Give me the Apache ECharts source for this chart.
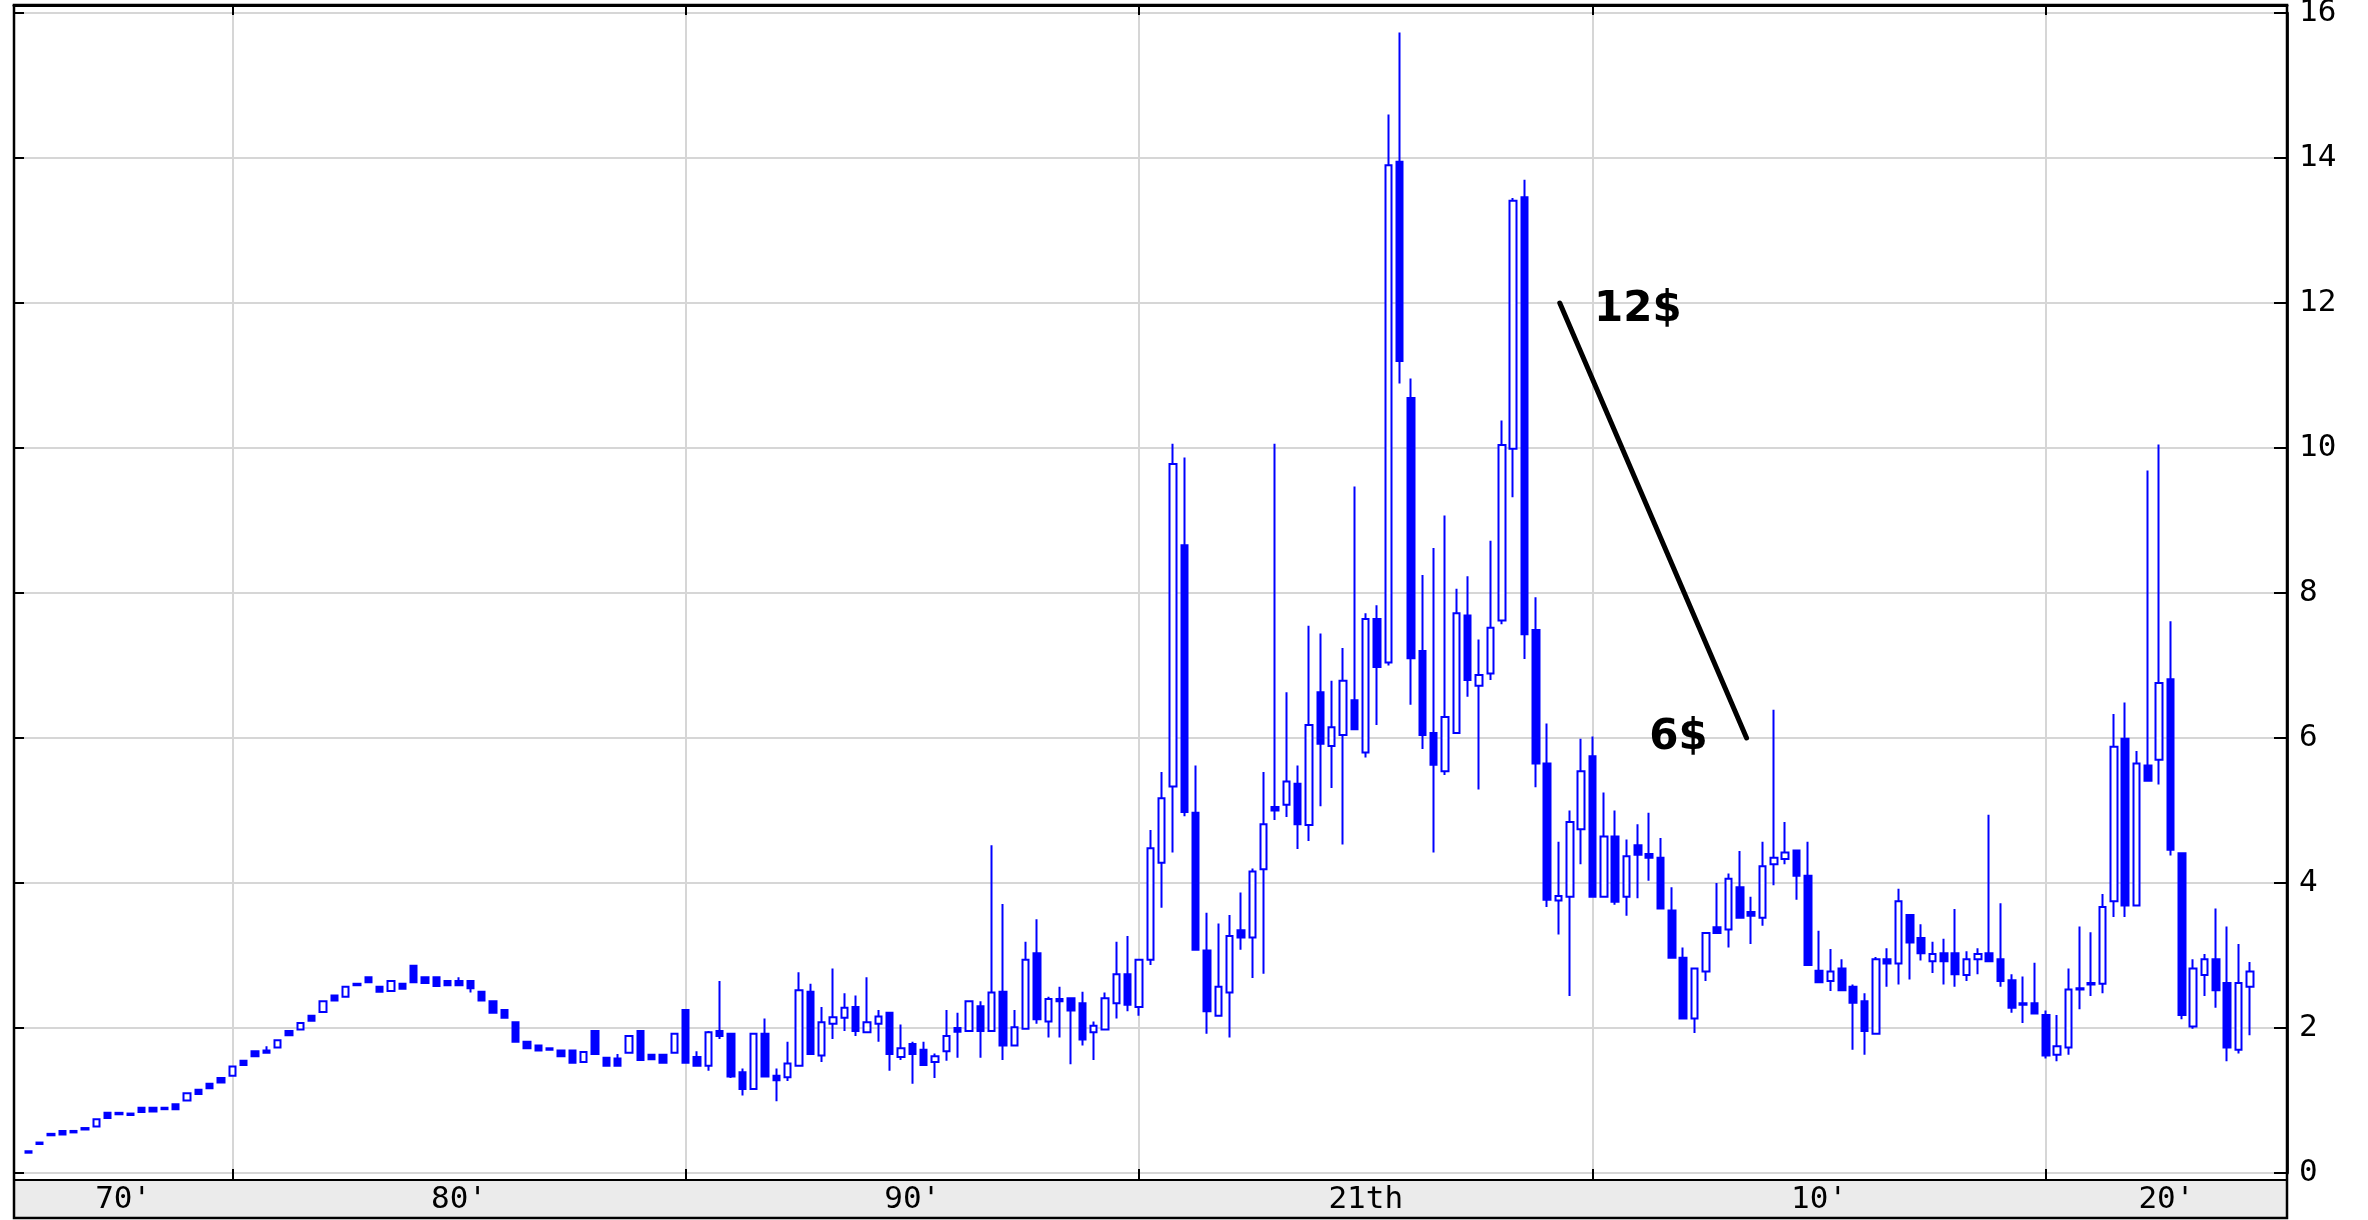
<!DOCTYPE html>
<html>
<head>
<meta charset="utf-8">
<script src="https://cdn.jsdelivr.net/npm/echarts@6/dist/echarts.min.js"></script>
<style>
  html, body { margin: 0; padding: 0; background: #fff; }
  #chart { width: 2368px; height: 1220px; }
</style>
</head>
<body>
<div id="chart"></div>
<script>
// ---- DATA ----
// quarterly candles, first one is 1975 Q3 (x expressed in decimal years)
const firstQuarter = 1975.5;
const quarterStep = 0.25;
// [open, close, low, high]
const ohlc = [
  [0.30,0.28,0.28,0.30],[0.42,0.40,0.40,0.42],[0.54,0.52,0.52,0.54],[0.58,0.53,0.53,0.58],
  [0.58,0.56,0.56,0.58],[0.62,0.60,0.60,0.62],[0.64,0.74,0.64,0.74],[0.83,0.76,0.76,0.83],
  [0.83,0.81,0.81,0.83],[0.82,0.80,0.80,0.82],[0.90,0.84,0.84,0.90],[0.90,0.85,0.85,0.90],
  [0.90,0.88,0.88,0.90],[0.95,0.88,0.88,0.95],[1.00,1.10,1.00,1.10],[1.15,1.09,1.09,1.15],
  [1.23,1.17,1.17,1.23],[1.31,1.25,1.25,1.31],[1.34,1.47,1.34,1.47],[1.55,1.49,1.49,1.55],
  [1.68,1.61,1.61,1.68],[1.69,1.66,1.66,1.75],[1.73,1.83,1.73,1.83],[1.96,1.90,1.90,1.96],
  [1.98,2.07,1.98,2.07],[2.17,2.10,2.10,2.17],[2.22,2.37,2.22,2.37],[2.45,2.38,2.38,2.45],
  [2.43,2.57,2.43,2.57],[2.61,2.59,2.59,2.61],[2.70,2.63,2.63,2.70],[2.57,2.50,2.50,2.57],
  [2.51,2.65,2.51,2.65],[2.61,2.54,2.54,2.61],[2.86,2.63,2.63,2.86],[2.70,2.62,2.62,2.70],
  [2.70,2.58,2.58,2.70],[2.65,2.59,2.59,2.65],[2.65,2.59,2.59,2.70],[2.65,2.55,2.49,2.65],
  [2.50,2.38,2.38,2.50],[2.37,2.21,2.21,2.37],[2.25,2.14,2.14,2.25],[2.08,1.81,1.81,2.08],
  [1.81,1.72,1.72,1.81],[1.76,1.69,1.69,1.76],[1.72,1.70,1.70,1.72],[1.69,1.61,1.61,1.69],
  [1.69,1.52,1.52,1.69],[1.53,1.67,1.53,1.67],[1.96,1.64,1.64,1.96],[1.59,1.48,1.48,1.59],
  [1.58,1.48,1.48,1.64],[1.66,1.89,1.66,1.89],[1.96,1.56,1.56,1.96],[1.63,1.57,1.57,1.63],
  [1.63,1.52,1.52,1.63],[1.66,1.92,1.66,1.92],[2.25,1.52,1.52,2.25],[1.60,1.48,1.48,1.68],
  [1.48,1.94,1.41,1.96],[1.96,1.89,1.85,2.65],[1.92,1.33,1.31,1.92],[1.39,1.16,1.07,1.44],
  [1.16,1.92,1.16,1.92],[1.92,1.33,1.33,2.13],[1.34,1.28,0.99,1.44],[1.32,1.51,1.27,1.81],
  [1.48,2.52,1.48,2.77],[2.50,1.64,1.64,2.61],[1.62,2.08,1.53,2.29],[2.06,2.15,1.85,2.82],
  [2.14,2.28,1.96,2.48],[2.29,1.96,1.89,2.45],[1.94,2.08,1.94,2.70],[2.06,2.16,1.81,2.25],
  [2.21,1.64,1.41,2.21],[1.60,1.72,1.56,2.05],[1.78,1.64,1.23,1.81],[1.70,1.49,1.49,1.81],
  [1.53,1.61,1.31,1.65],[1.68,1.89,1.55,2.25],[2.00,1.95,1.59,2.21],[1.96,2.37,1.96,2.37],
  [2.30,1.96,1.59,2.37],[1.96,2.49,1.96,4.52],[2.50,1.76,1.56,3.71],[1.76,2.01,1.76,2.25],
  [1.99,2.94,1.99,3.19],[3.03,2.12,2.06,3.50],[2.09,2.40,1.87,2.43],[2.40,2.37,1.87,2.57],
  [2.41,2.24,1.50,2.41],[2.34,1.84,1.76,2.50],[1.94,2.03,1.56,2.09],[1.98,2.41,1.98,2.49],
  [2.34,2.74,2.13,3.19],[2.74,2.32,2.23,3.27],[2.29,2.94,2.17,2.94],[2.94,4.48,2.87,4.73],
  [4.28,5.17,3.66,5.53],[5.33,9.78,4.42,10.06],[8.66,4.98,4.92,9.87],[4.97,3.08,3.08,5.62],
  [3.07,2.23,1.92,3.59],[2.17,2.57,2.17,3.44],[2.49,3.27,1.87,3.56],[3.35,3.25,3.08,3.87],
  [3.25,4.16,2.69,4.20],[4.19,4.81,2.75,5.53],[5.05,5.00,4.87,10.06],[5.08,5.40,4.91,6.63],
  [5.37,4.81,4.47,5.62],[4.80,6.18,4.58,7.55],[6.63,5.92,5.06,7.44],[5.89,6.15,5.31,6.79],
  [6.04,6.79,4.53,7.24],[6.52,6.12,6.12,9.47],[5.80,7.64,5.73,7.72],[7.64,6.98,6.18,7.83],
  [7.04,13.90,7.00,14.60],[13.95,11.20,10.89,15.73],[10.69,7.10,6.46,10.96],[7.20,6.04,5.85,8.25],
  [6.07,5.63,4.42,8.62],[5.54,6.29,5.49,9.07],[6.07,7.72,6.07,8.06],[7.69,6.80,6.57,8.23],
  [6.72,6.87,5.29,7.36],[6.89,7.52,6.80,8.72],[7.62,10.04,7.57,10.38],[9.99,13.41,9.32,13.45],
  [13.46,7.43,7.09,13.70],[7.49,5.65,5.32,7.94],[5.65,3.77,3.67,6.20],[3.76,3.82,3.29,4.57],
  [3.81,4.84,2.44,5.00],[4.74,5.54,4.26,5.99],[5.75,3.81,3.81,6.02],[3.81,4.64,3.81,5.25],
  [4.64,3.74,3.70,5.00],[3.81,4.37,3.55,4.60],[4.52,4.39,3.79,4.81],[4.40,4.35,4.03,4.97],
  [4.35,3.65,3.65,4.62],[3.62,2.97,2.97,3.94],[2.97,2.13,2.13,3.11],[2.13,2.82,1.93,2.82],
  [2.78,3.31,2.65,3.31],[3.39,3.31,3.31,4.00],[3.36,4.06,3.11,4.13],[3.94,3.52,3.52,4.44],
  [3.60,3.55,3.16,3.81],[3.52,4.23,3.41,4.57],[4.26,4.35,3.97,6.39],[4.33,4.42,4.26,4.84],
  [4.45,4.10,3.77,4.45],[4.10,2.87,2.87,4.57],[2.79,2.63,2.63,3.34],[2.65,2.78,2.51,3.09],
  [2.82,2.52,2.52,2.95],[2.57,2.35,1.70,2.60],[2.37,1.96,1.63,2.48],[1.92,2.95,1.92,2.98],
  [2.95,2.89,2.57,3.10],[2.89,3.75,2.60,3.92],[3.56,3.18,2.67,3.56],[3.24,3.03,2.93,3.43],
  [2.92,3.02,2.76,3.19],[3.03,2.92,2.60,3.23],[3.03,2.74,2.57,3.64],[2.73,2.95,2.65,3.06],
  [2.95,3.02,2.74,3.10],[3.03,2.92,2.92,4.94],[2.95,2.65,2.57,3.72],[2.66,2.28,2.21,2.74],
  [2.34,2.32,2.07,2.71],[2.34,2.20,2.20,2.90],[2.18,1.62,1.58,2.24],[1.63,1.75,1.54,2.18],
  [1.73,2.53,1.63,2.82],[2.53,2.55,2.26,3.40],[2.60,2.62,2.44,3.32],[2.61,3.67,2.48,3.85],
  [3.75,5.88,3.53,6.33],[5.99,3.69,3.53,6.49],[3.69,5.65,3.69,5.82],[5.62,5.41,5.41,9.69],
  [5.70,6.76,5.36,10.05],[6.81,4.46,4.38,7.61],[4.41,2.18,2.12,4.41],[2.02,2.82,1.99,2.95],
  [2.73,2.95,2.44,3.02],[2.95,2.52,2.28,3.65],[2.62,1.73,1.54,3.40],[1.70,2.62,1.65,3.16],
  [2.57,2.78,1.90,2.91]
];
// x axis: decade boundaries (grid lines) and the labels shown between them
const xMin = 1975.185;
const xMax = 2025.32;
const decadeTicks = [1980, 1990, 2000, 2010, 2020];
const xTickLabels = ["70'", "80'", "90'", "21th", "10'", "20'"];
// y axis
const yMin = 0, yMax = 16, yStep = 2;
// annotation: trend line and price notes
const trendLine = [[2009.28, 12], [2013.40, 6]];
const notes = [
  { name: '12$', value: [2011.0, 11.9] },
  { name: '6$', value: [2011.9, 6] }
];

// ---- BUILD ----
const candleData = ohlc.map((d, i) => [firstQuarter + i * quarterStep, d[0], d[1], d[2], d[3]]);
const bounds = [xMin].concat(decadeTicks, [xMax]);
const labelPos = xTickLabels.map((t, i) => (bounds[i] + bounds[i + 1]) / 2);

const chart = echarts.init(document.getElementById('chart'), null, { renderer: 'canvas' });
const BLUE = '#0000ff';
const monoFont = 'DejaVu Sans Mono';

const option = {
  animation: false,
  backgroundColor: '#ffffff',
  grid: { left: 14, right: 81, top: 13, bottom: 47, containLabel: false, outerBoundsMode: 'none' },
  xAxis: [
    {
      type: 'value', min: xMin, max: xMax, position: 'bottom', offset: 7,
      axisLine: { show: true, onZero: false, lineStyle: { color: '#000', width: 2 } },
      axisTick: { show: true, inside: true, length: 11, customValues: decadeTicks, lineStyle: { color: '#000', width: 2 } },
      axisLabel: {
        show: true, customValues: labelPos, margin: 4,
        formatter: function (v) {
          let best = 0;
          labelPos.forEach((p, i) => { if (Math.abs(p - v) < Math.abs(labelPos[best] - v)) best = i; });
          return xTickLabels[best];
        },
        fontFamily: monoFont, fontSize: 31, color: '#000'
      },
      splitLine: { show: true, lineStyle: { color: '#d6d6d6', width: 2 } }
    },
    {
      type: 'value', min: xMin, max: xMax, position: 'top', offset: 8,
      axisLine: { show: true, onZero: false, lineStyle: { color: '#000', width: 3 } },
      axisTick: { show: true, inside: true, length: 10, customValues: decadeTicks, lineStyle: { color: '#000', width: 2 } },
      axisLabel: { show: false },
      splitLine: { show: false }
    }
  ],
  yAxis: [
    {
      type: 'value', min: yMin, max: yMax, interval: yStep, position: 'right',
      axisLine: { show: true, onZero: false, lineStyle: { color: '#222', width: 3 } },
      axisTick: { show: true, inside: true, length: 13, lineStyle: { color: '#000', width: 2 } },
      axisLabel: { show: true, margin: 12, fontFamily: monoFont, fontSize: 31, color: '#000' },
      splitLine: { show: true, lineStyle: { color: '#d6d6d6', width: 2 } }
    },
    {
      type: 'value', min: yMin, max: yMax, interval: yStep, position: 'left',
      axisLine: { show: true, onZero: false, lineStyle: { color: '#000', width: 2 } },
      axisTick: { show: true, inside: true, length: 10, lineStyle: { color: '#000', width: 2 } },
      axisLabel: { show: false },
      splitLine: { show: false }
    }
  ],
  graphic: [
    { type: 'rect', z: -10, silent: true, shape: { x: 14, y: 1180, width: 2273, height: 38 }, style: { fill: '#ebebeb' } },
    { type: 'rect', z: 50, silent: true, shape: { x: 14, y: 5, width: 2273, height: 1213 }, style: { fill: null, stroke: '#000', lineWidth: 2.5 } }
  ],
  series: [
    {
      type: 'candlestick', xAxisIndex: 0, yAxisIndex: 0,
      data: candleData,
      barWidth: 7,
      itemStyle: { color: '#ffffff', color0: BLUE, borderColor: BLUE, borderColor0: BLUE, borderWidth: 2 },
      z: 3
    },
    {
      type: 'line', xAxisIndex: 0, yAxisIndex: 0,
      data: trendLine, symbol: 'none', silent: true,
      lineStyle: { color: '#000', width: 5, cap: 'round' }, z: 6
    },
    {
      type: 'scatter', xAxisIndex: 0, yAxisIndex: 0,
      data: notes, symbolSize: 0, silent: true,
      itemStyle: { color: 'rgba(0,0,0,0)' },
      label: {
        show: true, position: 'inside', formatter: '{b}', opacity: 1,
        fontFamily: 'DejaVu Sans', fontWeight: 'bold', fontSize: 42, color: '#000'
      },
      labelLayout: { hideOverlap: false },
      z: 7
    }
  ]
};
chart.setOption(option);
</script>
</body>
</html>
